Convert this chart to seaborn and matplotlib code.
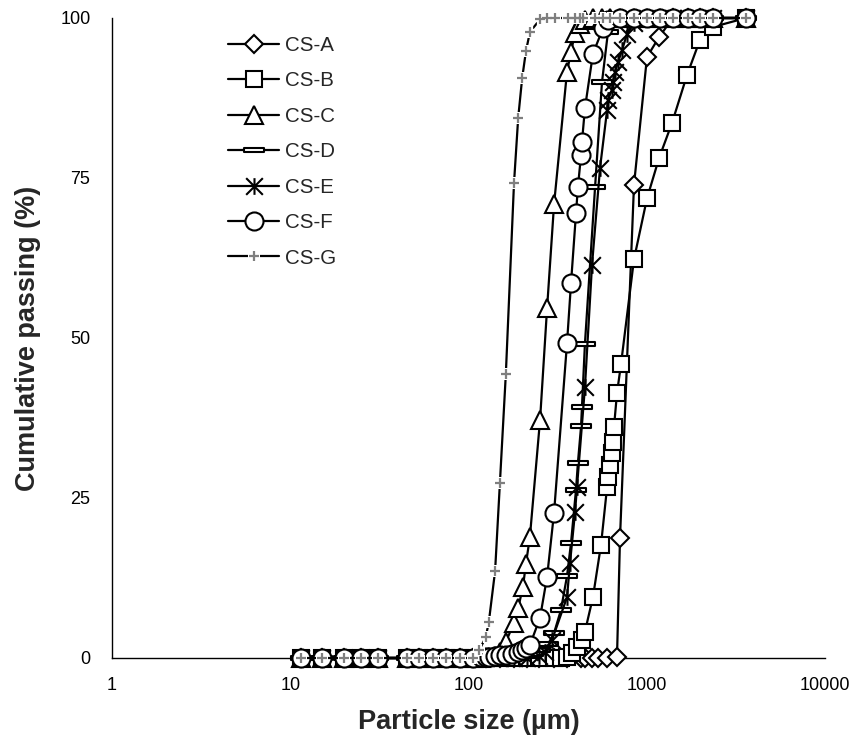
import matplotlib
matplotlib.use("Agg")
import matplotlib.pyplot as plt
import seaborn as sns
from matplotlib.path import Path
from matplotlib.ticker import NullLocator, FixedLocator, FixedFormatter
from matplotlib.legend_handler import HandlerTuple

# ---------------- data ----------------
sample_names = ["CS-A", "CS-B", "CS-C", "CS-D", "CS-E", "CS-F", "CS-G"]

zero_sizes = [11.5, 15, 20, 25, 31, 45, 53, 63, 75, 90, 106]
zero_pass = [0, 0, 0, 0, 0, 0, 0, 0, 0, 0, 0]

size_A = zero_sizes + [125, 150, 180, 212, 250, 300, 355, 425, 450, 493, 533, 599,
                       681, 708, 848, 1003, 1172, 1400, 1700, 2000, 2360, 3600]
pass_A = zero_pass + [0, 0, 0, 0, 0, 0, 0, 0, 0, 0, 0, 0,
                      0.2, 18.8, 73.9, 93.9, 97.0, 100, 100, 100, 100, 100]

size_B = zero_sizes + [125, 150, 180, 212, 250, 300, 330, 357, 381, 406, 433, 450,
                       499, 554, 599, 607, 622, 638, 647, 655, 681, 717,
                       848, 1003, 1172, 1386, 1683, 1990, 2354, 3600]
pass_B = zero_pass + [0, 0, 0, 0, 0, 0, 0, 0.2, 0.8, 1.7, 2.8, 4.1,
                      9.5, 17.7, 26.7, 28.3, 30.2, 32.0, 33.8, 36.1, 41.4, 45.9,
                      62.3, 71.8, 78.1, 83.6, 91.1, 96.6, 98.6, 100]

size_C = zero_sizes + [118, 130, 140, 150, 162, 180, 190, 202, 210, 221, 252, 276, 302,
                       357, 376, 396, 423, 450, 500, 560, 620, 708, 850,
                       1000, 1180, 1400, 1700, 2000, 2360, 3600]
pass_C = zero_pass + [0, 0.1, 0.3, 1.0, 2.5, 5.5, 7.8, 11.1, 14.7, 18.9, 37.2, 54.7, 70.9,
                      91.6, 94.7, 97.7, 99.0, 99.7, 100, 100, 100, 100, 100,
                      100, 100, 100, 100, 100, 100, 100]

size_D = zero_sizes + [125, 150, 180, 212, 230, 252, 280, 302, 330, 357,
                       376, 401, 411, 428, 433, 450, 513, 561, 606, 650,
                       708, 850, 1000, 1180, 1400, 1700, 2000, 2360, 3600]
pass_D = zero_pass + [0, 0, 0, 0.3, 0.6, 1.2, 2.2, 3.9, 7.5, 12.8,
                      18.0, 26.3, 30.5, 36.2, 39.2, 49.1, 73.6, 90.0, 97.8, 100,
                      100, 100, 100, 100, 100, 100, 100, 100, 100]

size_E = zero_sizes + [125, 150, 180, 212, 250, 270, 294, 357, 371, 396,
                       406, 450, 493, 547, 599, 606, 638, 647, 664, 690,
                       727, 775, 850, 1000, 1180, 1400, 1700, 2000, 2360, 3600]
pass_E = zero_pass + [0, 0, 0, 0, 0.3, 1.0, 2.8, 9.5, 14.8, 22.8,
                      26.7, 42.3, 61.4, 76.6, 85.6, 87.2, 88.8, 90.0, 91.6, 93.1,
                      95.0, 97.5, 99.2, 100, 100, 100, 100, 100, 100, 100]

size_F = zero_sizes + [118, 125, 130, 140, 150, 162, 175, 190, 200, 210,
                       221, 252, 276, 302, 357, 376, 401, 411, 428, 433,
                       450, 499, 568, 610, 708, 850, 1000, 1180, 1400, 1700,
                       2000, 2360, 3600]
pass_F = zero_pass + [0.1, 0.1, 0.2, 0.3, 0.4, 0.5, 0.7, 0.9, 1.2, 1.5,
                      2.0, 6.3, 12.7, 22.7, 49.2, 58.6, 69.5, 73.6, 78.6, 80.6,
                      85.9, 94.4, 98.4, 99.7, 100, 100, 100, 100, 100, 100,
                      100, 100, 100]

size_G = zero_sizes + [115, 125, 130, 141, 150, 162, 180, 190, 200, 210,
                       221, 252, 277, 307, 361, 397, 421, 438, 512, 570,
                       620, 708, 850, 1000, 1180, 1400, 1700, 2000, 2360, 3600]
pass_G = zero_pass + [1.2, 3.3, 5.6, 13.6, 27.3, 44.4, 74.2, 84.4, 90.6, 94.8,
                      97.8, 99.8, 100, 100, 100, 100, 100, 100, 100, 100,
                      100, 100, 100, 100, 100, 100, 100, 100, 100, 100]

x_ticks = [1, 10, 100, 1000, 10000]
x_tick_labels = ["1", "10", "100", "1000", "10000"]
y_ticks = [0, 25, 50, 75, 100]

# ---------------- style ----------------
sns.set_style("white")
plt.rcParams["font.family"] = ["Liberation Sans", "DejaVu Sans"]

W, H = 866, 748
fig = plt.figure(figsize=(W / 100, H / 100), dpi=100)
ax = fig.add_axes([112 / W, 1 - 658 / H, (825 - 112) / W, (658 - 18) / H])

M, L, C = Path.MOVETO, Path.LINETO, Path.CLOSEPOLY
asterisk = Path([(-1, -1), (1, 1), (-1, 1), (1, -1), (0, -1), (0, 1)],
                [M, L, M, L, M, L])
dash = Path([(-1, -0.22), (1, -0.22), (1, 0.22), (-1, 0.22), (-1, -0.22)],
            [M, L, L, L, C])

lw = 1.6
mew = 1.5
common = dict(ax=ax, estimator=None, sort=False, legend=False, color="black",
              linewidth=lw, clip_on=False, zorder=3)

series = [
    (size_A, pass_A, dict(marker="D", markersize=9)),
    (size_B, pass_B, dict(marker="s", markersize=12)),
    (size_C, pass_C, dict(marker="^", markersize=13)),
    (size_D, pass_D, dict(marker=dash, markersize=14)),
    (size_E, pass_E, dict(marker=asterisk, markersize=12)),
    (size_F, pass_F, dict(marker="o", markersize=13)),
]

handles = []
for xs, ys, mk in series:
    sns.lineplot(x=xs, y=ys, markerfacecolor="white", markeredgecolor="black",
                 markeredgewidth=mew, **mk, **common)
    handles.append(ax.lines[-1])

# CS-G: black line, grey plus markers with a white halo
sns.lineplot(x=size_G, y=pass_G, **common)
g_line = ax.lines[-1]
sns.lineplot(x=size_G, y=pass_G, ax=ax, estimator=None, sort=False, legend=False,
             linestyle="none", marker="+", markersize=8, markeredgecolor="white",
             markeredgewidth=4.5, clip_on=False, zorder=3)
g_halo = ax.lines[-1]
sns.lineplot(x=size_G, y=pass_G, ax=ax, estimator=None, sort=False, legend=False,
             linestyle="none", marker="+", markersize=7, markeredgecolor="#7f7f7f",
             markeredgewidth=1.6, clip_on=False, zorder=3)
g_mark = ax.lines[-1]
handles.append((g_line, g_halo, g_mark))

# ---------------- axes ----------------
ax.set_xscale("log")
ax.set_xlim(1, 10000)
ax.set_ylim(0, 100)
ax.xaxis.set_major_locator(FixedLocator(x_ticks))
ax.xaxis.set_major_formatter(FixedFormatter(x_tick_labels))
ax.xaxis.set_minor_locator(NullLocator())
ax.set_yticks(y_ticks)
ax.set_yticklabels([str(v) for v in y_ticks])

sns.despine(ax=ax)
for s in ("left", "bottom"):
    ax.spines[s].set_linewidth(1.0)
    ax.spines[s].set_color("black")
    ax.spines[s].set_zorder(1)

ax.tick_params(axis="both", which="major", direction="out", length=4.5, width=1.0,
               color="black", labelsize=13, labelcolor="black")
ax.tick_params(axis="y", pad=11)
ax.tick_params(axis="x", pad=9)

ax.set_xlabel("Particle size (µm)", fontsize=19.5, fontweight="bold", labelpad=11)
ax.set_ylabel("Cumulative passing (%)", fontsize=19.5, fontweight="bold", labelpad=14)

leg = ax.legend(handles=handles, labels=sample_names, loc="upper left",
                bbox_to_anchor=(228 / W, 1 - 36 / H), bbox_transform=fig.transFigure,
                frameon=False, fontsize=14.8, handlelength=2.5, handletextpad=0.25,
                labelspacing=0.8, borderpad=0, borderaxespad=0,
                handler_map={tuple: HandlerTuple(ndivide=1)})

fig.savefig("out.png", dpi=100, facecolor="white")
